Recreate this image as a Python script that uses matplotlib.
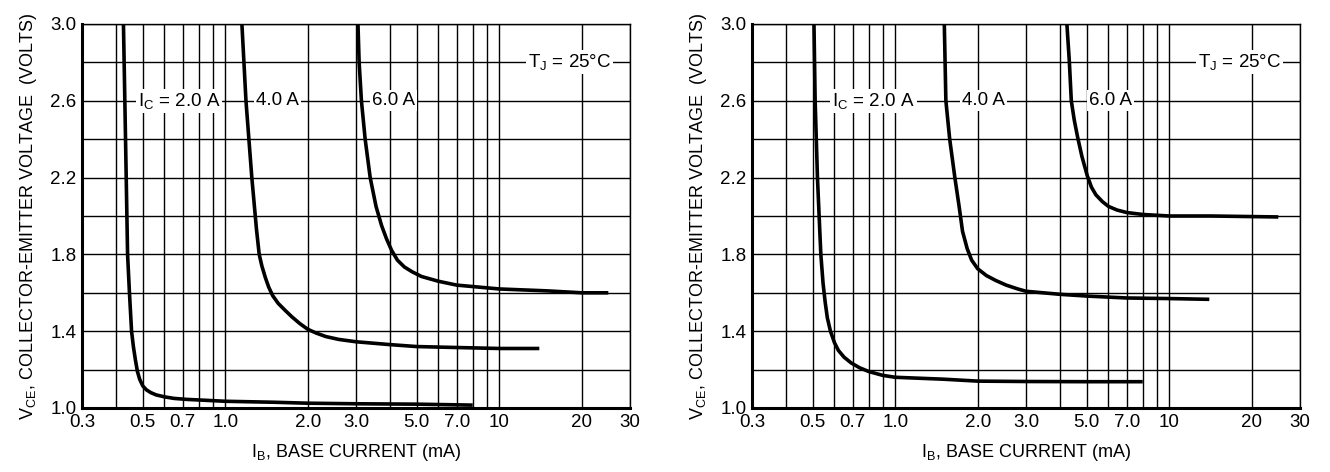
import matplotlib
matplotlib.use("Agg")
import matplotlib.pyplot as plt
from matplotlib.ticker import FixedLocator, NullFormatter

plt.rcParams['font.family'] = ['Liberation Sans Narrow', 'Liberation Sans', 'DejaVu Sans']
plt.rcParams['mathtext.default'] = 'regular'

# x ticks / grid (mA)
x_major = [0.3, 0.5, 0.7, 1.0, 2.0, 3.0, 5.0, 7.0, 10, 20, 30]
x_labels = ['0.3', '0.5', '0.7', '1.0', '2.0', '3.0', '5.0', '7.0', '10', '20', '30']
x_minor = [0.4, 0.6, 0.8, 0.9, 4.0, 6.0, 8.0, 9.0]
y_major = [1.0, 1.4, 1.8, 2.2, 2.6, 3.0]
y_minor = [1.2, 1.6, 2.0, 2.4, 2.8]

# left chart curves
l_ib_2a = [0.425, 0.43, 0.435, 0.44, 0.447, 0.455, 0.462, 0.47, 0.478, 0.487, 0.50, 0.515,
           0.535, 0.56, 0.60, 0.65, 0.72, 0.85, 1.0, 1.5, 2.0, 3.0, 5.0, 8.0]
l_vce_2a = [3.0, 2.6, 2.2, 1.8, 1.6, 1.4, 1.32, 1.25, 1.19, 1.15, 1.115, 1.095,
            1.08, 1.068, 1.058, 1.05, 1.045, 1.04, 1.035, 1.03, 1.025, 1.022, 1.02, 1.015]
l_ib_4a = [1.15, 1.19, 1.25, 1.30, 1.33, 1.36, 1.40, 1.44, 1.49, 1.56, 1.65, 1.75, 1.87, 2.0,
           2.15, 2.33, 2.6, 3.0, 4.0, 5.0, 7.0, 10, 14]
l_vce_4a = [3.0, 2.6, 2.2, 1.93, 1.8, 1.74, 1.68, 1.63, 1.585, 1.545, 1.51, 1.475, 1.44, 1.41,
            1.39, 1.372, 1.357, 1.345, 1.33, 1.32, 1.315, 1.31, 1.31]
l_ib_6a = [3.05, 3.08, 3.14, 3.24, 3.38, 3.55, 3.72, 3.88, 4.05, 4.25, 4.5, 4.8, 5.2, 6.0,
           7.0, 10, 15, 20, 25]
l_vce_6a = [3.0, 2.8, 2.6, 2.4, 2.2, 2.05, 1.95, 1.88, 1.82, 1.77, 1.735, 1.71, 1.685, 1.66,
            1.64, 1.62, 1.61, 1.60, 1.60]

# right chart curves
r_ib_2a = [0.505, 0.51, 0.52, 0.53, 0.535, 0.545, 0.555, 0.565, 0.58, 0.60, 0.62, 0.65, 0.69,
           0.74, 0.80, 0.9, 1.0, 1.5, 2.0, 3.0, 5.0, 8.0]
r_vce_2a = [3.0, 2.6, 2.2, 1.93, 1.8, 1.65, 1.55, 1.47, 1.4, 1.34, 1.30, 1.265, 1.235,
            1.21, 1.19, 1.17, 1.16, 1.15, 1.14, 1.138, 1.137, 1.137]
r_ib_4a = [1.51, 1.53, 1.58, 1.65, 1.71, 1.76, 1.83, 1.9, 2.0, 2.15, 2.32, 2.54, 2.8, 3.0, 4.0,
           5.0, 7.0, 10, 14]
r_vce_4a = [3.0, 2.6, 2.4, 2.2, 2.05, 1.92, 1.83, 1.77, 1.725, 1.69, 1.665, 1.64, 1.62, 1.608,
            1.592, 1.583, 1.573, 1.57, 1.566]
r_ib_6a = [4.23, 4.32, 4.39, 4.5, 4.63, 4.8, 5.02, 5.2, 5.4, 5.7, 6.0, 6.45, 7.0, 8.0, 10,
           14.2, 25]
r_vce_6a = [3.0, 2.8, 2.6, 2.5, 2.41, 2.31, 2.21, 2.15, 2.11, 2.075, 2.05, 2.031, 2.018, 2.008,
            2.0, 2.0, 1.995]

# label positions (data coords, left edge of text)
left_labels = [(0.48, 'I$_C$ = 2.0 A'), (1.30, '4.0 A'), (3.43, '6.0 A')]
right_labels = [(0.59, 'I$_C$ = 2.0 A'), (1.75, '4.0 A'), (5.1, '6.0 A')]
tj_x = 12.7

fig = plt.figure(figsize=(13.3, 4.72), dpi=100)
ax1 = fig.add_axes([82 / 1330, 1 - 408 / 472, 548 / 1330, 384 / 472])
ax2 = fig.add_axes([752 / 1330, 1 - 408 / 472, 548 / 1330, 384 / 472])

box = dict(facecolor='white', edgecolor='none', pad=1.5)

for ax, curves, labels in [
    (ax1, [(l_ib_2a, l_vce_2a), (l_ib_4a, l_vce_4a), (l_ib_6a, l_vce_6a)], left_labels),
    (ax2, [(r_ib_2a, r_vce_2a), (r_ib_4a, r_vce_4a), (r_ib_6a, r_vce_6a)], right_labels),
]:
    ax.set_xscale('log')
    ax.set_xlim(0.3, 30)
    ax.set_ylim(1.0, 3.0)
    ax.xaxis.set_major_locator(FixedLocator(x_major))
    ax.xaxis.set_minor_locator(FixedLocator(x_minor))
    ax.xaxis.set_minor_formatter(NullFormatter())
    ax.set_xticklabels(x_labels)
    ax.yaxis.set_major_locator(FixedLocator(y_major))
    ax.yaxis.set_minor_locator(FixedLocator(y_minor))
    ax.set_yticklabels(['%.1f' % v for v in y_major])
    ax.tick_params(which='both', length=0, labelsize=13.5, pad=4)
    ax.grid(which='both', color='black', lw=1.0)
    ax.set_axisbelow(True)
    for s in ['top', 'right']:
        ax.spines[s].set_linewidth(1.0)
    for s in ['left', 'bottom']:
        ax.spines[s].set_linewidth(2.2)
    ax.spines['left'].set_zorder(5)
    ax.spines['bottom'].set_zorder(5)

    for xs, ys in curves:
        ax.plot(xs, ys, color='black', lw=2.6, solid_capstyle='butt',
                solid_joinstyle='round', zorder=3)

    for xl, txt in labels:
        ax.text(xl, 2.6, txt, fontsize=13.5, ha='left', va='center', bbox=box, zorder=4)
    ax.text(tj_x, 2.8, 'T$_J$ = 25°C', fontsize=13.5, ha='left', va='center', bbox=box, zorder=4)

    ax.set_xlabel('I$_B$, BASE CURRENT (mA)', fontsize=13, labelpad=8)
    ax.set_ylabel('V$_{CE}$, COLLECTOR-EMITTER VOLTAGE  (VOLTS)', fontsize=13, labelpad=8)

fig.savefig('out.png', dpi=100, facecolor='white')
